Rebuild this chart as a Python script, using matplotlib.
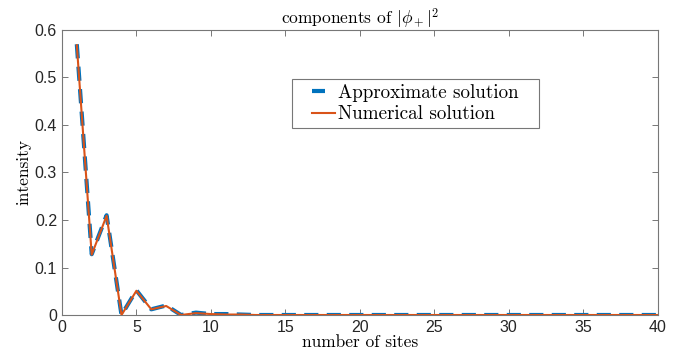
import numpy as np
import matplotlib
matplotlib.use('Agg')
import matplotlib.pyplot as plt
from matplotlib.lines import Line2D
from matplotlib.patches import Rectangle

plt.rcParams['mathtext.fontset'] = 'cm'

sites = np.arange(1, 41)
approx = [0.57, 0.128, 0.21, 0.0, 0.052, 0.012, 0.02, 0.0, 0.005, 0.002,
          0.002, 0.001] + [0.0] * 28
numerical = [0.568, 0.127, 0.209, 0.0, 0.051, 0.012, 0.019, 0.0, 0.004, 0.002,
             0.001, 0.001] + [0.0] * 28
labels = ['Approximate solution', 'Numerical solution']

blue = '#0072BD'
orange = '#D95319'

fig = plt.figure(figsize=(6.88, 3.64), dpi=100)
ax = fig.add_axes([0.090, 0.1346, 0.866, 0.783])

ax.plot(sites, approx, color=blue, lw=3, ls=(0, (3.4, 2.0)), zorder=2)
ax.plot(sites, numerical, color=orange, lw=1.5, zorder=3)

ax.set_xlim(0, 40)
ax.set_ylim(0, 0.6)
ax.set_xticks(np.arange(0, 41, 5))
ax.set_yticks(np.arange(0, 0.61, 0.1))
ax.set_yticklabels(['0', '0.1', '0.2', '0.3', '0.4', '0.5', '0.6'])
ax.tick_params(direction='in', top=True, right=True, length=4, width=0.7,
               color='#777777', labelcolor='#262626', labelsize=11.5)
for lab in ax.get_xticklabels() + ax.get_yticklabels():
    lab.set_family('Liberation Sans')
for s in ax.spines.values():
    s.set_color('#777777')
    s.set_linewidth(0.8)

ax.set_title(r'components of $|\phi_+|^2$', family='cmr10', fontsize=12.5, pad=5)
ax.set_xlabel('number of sites', family='cmr10', fontsize=12.5, labelpad=0)
ax.set_ylabel('intensity', family='cmr10', fontsize=12.5, labelpad=2)

# legend box drawn by hand (MATLAB pads it wider than matplotlib does)
ax.add_patch(Rectangle((0.3854, 0.656), 0.4149, 0.171, transform=ax.transAxes,
                       facecolor='white', edgecolor='#777777', lw=0.8,
                       zorder=4))
handles = [Line2D([], [], color=blue, lw=3, ls=(0, (3.12, 20))),
           Line2D([], [], color=orange, lw=1.5)]
leg = ax.legend(handles, labels, loc='upper left', frameon=False,
                bbox_to_anchor=(0.419, 0.812), borderaxespad=0, borderpad=0,
                prop={'family': 'cmr10', 'size': 13.7}, handlelength=1.22,
                handletextpad=0.16, labelspacing=0.2)
leg.set_zorder(5)

fig.savefig('out.png', dpi=100)
